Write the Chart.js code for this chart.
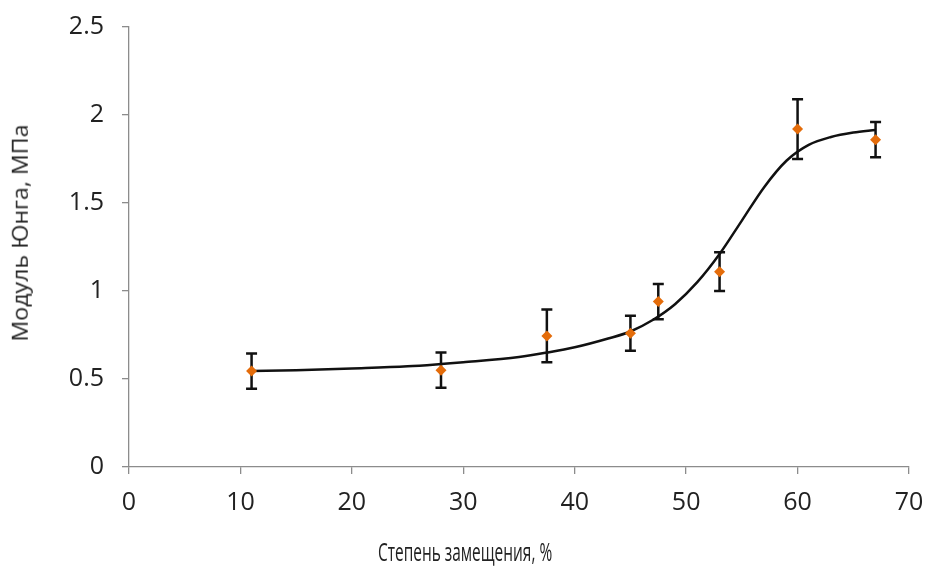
<!DOCTYPE html>
<html>
<head>
<meta charset="utf-8">
<script src="https://cdn.jsdelivr.net/npm/chart.js@4/dist/chart.umd.min.js"></script>
<style>
  html, body { margin: 0; padding: 0; background: #fff; }
  #wrap { position: relative; width: 929px; height: 569px; overflow: hidden; }
  #c { position: absolute; left: 0; top: 0; }
  .ttl { position: absolute; font-family: "Open Sans", sans-serif; font-size: 22px; line-height: 1; color: #222; white-space: nowrap; left: 0; top: 0; }
  #xt { font-size: 25px; }
</style>
</head>
<body>
<div id="wrap">
  <canvas id="c" width="929" height="569"></canvas>
  <div class="ttl" id="xt">Степень замещения, %</div>
  <div class="ttl" id="yt">Модуль Юнга, МПа</div>
</div>
<script>
// Measured points
const degree = [11, 28, 37.5, 45, 47.5, 53, 60, 67];
const modulus = [0.545, 0.55, 0.745, 0.76, 0.94, 1.11, 1.92, 1.86];
const errors = [0.1, 0.1, 0.15, 0.1, 0.1, 0.11, 0.17, 0.1];
// Trend curve
const curveX = [11, 15, 20, 25, 28, 30, 35, 37.5, 40, 43, 45, 47, 49, 51, 53, 55, 57, 59, 61, 63, 65, 67];
const curveY = [0.545, 0.55, 0.56, 0.572, 0.585, 0.595, 0.625, 0.65, 0.68, 0.73, 0.77, 0.835, 0.925, 1.05, 1.21, 1.40, 1.59, 1.74, 1.83, 1.875, 1.90, 1.915];
const xTicks = [0, 10, 20, 30, 40, 50, 60, 70];
const yTicks = [0, 0.5, 1, 1.5, 2, 2.5];

// Axis titles (placed and sized to the reference footprint)
function placeTitle(el, cx, cy, length, rotate) {
  const w = el.offsetWidth, h = el.offsetHeight;
  const s = length / w;
  el.style.left = (cx - w / 2) + 'px';
  el.style.top = (cy - h / 2) + 'px';
  el.style.transform = rotate ? 'rotate(-90deg) scale(' + s + ', 0.95)' : 'scale(' + s + ', 1)';
}
placeTitle(document.getElementById('xt'), 465, 551, 174, false);
placeTitle(document.getElementById('yt'), 19, 233, 217, true);

const errorBars = {
  id: 'errorBars',
  beforeDatasetsDraw(chart) {
    const ctx = chart.ctx, xs = chart.scales.x, ys = chart.scales.y;
    ctx.save();
    ctx.strokeStyle = '#111';
    ctx.lineWidth = 2.5;
    degree.forEach((d, i) => {
      const px = xs.getPixelForValue(d);
      const top = ys.getPixelForValue(modulus[i] + errors[i]);
      const bot = ys.getPixelForValue(modulus[i] - errors[i]);
      ctx.beginPath();
      ctx.moveTo(px, top); ctx.lineTo(px, bot);
      ctx.moveTo(px - 5.5, top); ctx.lineTo(px + 5.5, top);
      ctx.moveTo(px - 5.5, bot); ctx.lineTo(px + 5.5, bot);
      ctx.stroke();
    });
    ctx.restore();
  }
};

const tickFont = { family: '"Open Sans", sans-serif', size: 25, lineHeight: 1 };

new Chart(document.getElementById('c'), {
  type: 'scatter',
  data: {
    datasets: [
      {
        label: 'points',
        data: degree.map((d, i) => ({ x: d, y: modulus[i] })),
        pointStyle: 'rectRot',
        pointRadius: 5.5,
        backgroundColor: '#E46C0A',
        borderColor: '#E46C0A',
        borderWidth: 0,
        order: 0
      },
      {
        label: 'curve',
        data: curveX.map((d, i) => ({ x: d, y: curveY[i] })),
        showLine: true,
        cubicInterpolationMode: 'monotone',
        borderColor: '#111',
        borderWidth: 2.5,
        pointRadius: 0,
        order: 1
      }
    ]
  },
  options: {
    responsive: false,
    animation: false,
    layout: { padding: { left: 0, right: 20, top: 27, bottom: 0 } },
    plugins: { legend: { display: false }, tooltip: { enabled: false } },
    scales: {
      x: {
        type: 'linear', min: 0, max: 70,
        afterBuildTicks: s => { s.ticks = xTicks.map(v => ({ value: v })); },
        afterFit: s => { s.height = 102; s.paddingLeft = 0; s.paddingRight = 0; },
        grid: { drawOnChartArea: false, drawTicks: true, tickLength: 7, color: '#8c8c8c', lineWidth: 1.3 },
        border: { color: '#8c8c8c', width: 1.3 },
        ticks: { font: tickFont, color: '#222', padding: 16, maxRotation: 0 }
      },
      y: {
        type: 'linear', min: 0, max: 2.5,
        afterBuildTicks: s => { s.ticks = yTicks.map(v => ({ value: v })); },
        afterFit: s => { s.width = 129; s.paddingTop = 0; s.paddingBottom = 0; },
        grid: { drawOnChartArea: false, drawTicks: true, tickLength: 7, color: '#8c8c8c', lineWidth: 1.3 },
        border: { color: '#8c8c8c', width: 1.3 },
        ticks: { font: tickFont, color: '#222', padding: 18, callback: v => String(v) }
      }
    }
  },
  plugins: [errorBars]
});
</script>
</body>
</html>
